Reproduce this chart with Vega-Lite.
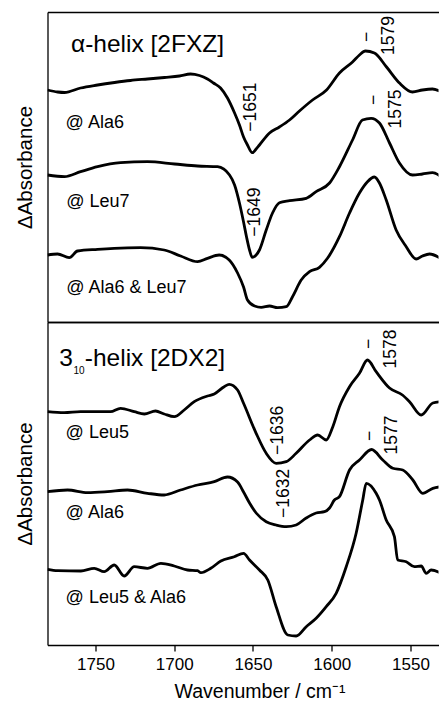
{
  "$schema": "https://vega.github.io/schema/vega-lite/v6.json",
  "padding": {"left": 15.5, "top": 12, "right": 0, "bottom": 0},
  "bounds": "flush",
  "spacing": 0,
  "config": {
    "font": "Liberation Sans",
    "view": {"stroke": null},
    "axis": {"domainColor": "black", "domainWidth": 1.3, "grid": false, "tickColor": "black", "labelColor": "black", "titleColor": "black", "titleFontWeight": "normal"},
    "axisY": {"ticks": false, "labels": false, "domain": true, "titleFontSize": 20.5, "titlePadding": 12}
  },
  "datasets": {
    "spectra": [
      {"panel":"a","series":"a1","wn":1780.5,"val":232},{"panel":"a","series":"a1","wn":1774.1,"val":230},{"panel":"a","series":"a1","wn":1769.7,"val":229.5},{"panel":"a","series":"a1","wn":1759.5,"val":234},{"panel":"a","series":"a1","wn":1748.7,"val":237},{"panel":"a","series":"a1","wn":1737.9,"val":239.5},{"panel":"a","series":"a1","wn":1727.8,"val":241.5},{"panel":"a","series":"a1","wn":1717.0,"val":243},{"panel":"a","series":"a1","wn":1706.2,"val":244.5},{"panel":"a","series":"a1","wn":1696.7,"val":246},{"panel":"a","series":"a1","wn":1689.7,"val":248},{"panel":"a","series":"a1","wn":1684.0,"val":246.5},{"panel":"a","series":"a1","wn":1678.9,"val":243},{"panel":"a","series":"a1","wn":1675.1,"val":239},{"panel":"a","series":"a1","wn":1670.6,"val":234},{"panel":"a","series":"a1","wn":1666.2,"val":224},{"panel":"a","series":"a1","wn":1661.7,"val":209},{"panel":"a","series":"a1","wn":1658.6,"val":197},{"panel":"a","series":"a1","wn":1656.0,"val":185},{"panel":"a","series":"a1","wn":1653.5,"val":177},{"panel":"a","series":"a1","wn":1650.5,"val":169.3},{"panel":"a","series":"a1","wn":1648.0,"val":173},{"panel":"a","series":"a1","wn":1645.9,"val":177},{"panel":"a","series":"a1","wn":1639.5,"val":189},{"panel":"a","series":"a1","wn":1633.2,"val":195},{"panel":"a","series":"a1","wn":1626.8,"val":202},{"panel":"a","series":"a1","wn":1620.5,"val":211},{"panel":"a","series":"a1","wn":1612.2,"val":222},{"panel":"a","series":"a1","wn":1603.3,"val":232},{"panel":"a","series":"a1","wn":1595.1,"val":249},{"panel":"a","series":"a1","wn":1586.8,"val":260},{"panel":"a","series":"a1","wn":1582.4,"val":267},{"panel":"a","series":"a1","wn":1578.6,"val":271},{"panel":"a","series":"a1","wn":1572.9,"val":269},{"panel":"a","series":"a1","wn":1565.2,"val":255},{"panel":"a","series":"a1","wn":1557.0,"val":239},{"panel":"a","series":"a1","wn":1548.7,"val":230},{"panel":"a","series":"a1","wn":1542.4,"val":232},{"panel":"a","series":"a1","wn":1536.0,"val":233},{"panel":"a","series":"a1","wn":1530.3,"val":230},
      {"panel":"a","series":"a2","wn":1780.5,"val":147},{"panel":"a","series":"a2","wn":1769.7,"val":145.3},{"panel":"a","series":"a2","wn":1759.5,"val":150.3},{"panel":"a","series":"a2","wn":1748.7,"val":155.3},{"panel":"a","series":"a2","wn":1734.1,"val":159.3},{"panel":"a","series":"a2","wn":1717.0,"val":160.3},{"panel":"a","series":"a2","wn":1699.8,"val":158},{"panel":"a","series":"a2","wn":1685.2,"val":156},{"panel":"a","series":"a2","wn":1672.5,"val":155.3},{"panel":"a","series":"a2","wn":1664.9,"val":147},{"panel":"a","series":"a2","wn":1661.7,"val":137},{"panel":"a","series":"a2","wn":1658.6,"val":119},{"panel":"a","series":"a2","wn":1656.0,"val":100},{"panel":"a","series":"a2","wn":1654.1,"val":85},{"panel":"a","series":"a2","wn":1652.2,"val":72},{"panel":"a","series":"a2","wn":1650.5,"val":64.7},{"panel":"a","series":"a2","wn":1648.0,"val":67},{"panel":"a","series":"a2","wn":1645.9,"val":72},{"panel":"a","series":"a2","wn":1641.6,"val":92},{"panel":"a","series":"a2","wn":1637.6,"val":109},{"panel":"a","series":"a2","wn":1633.2,"val":119.3},{"panel":"a","series":"a2","wn":1626.8,"val":121.3},{"panel":"a","series":"a2","wn":1616.2,"val":123.7},{"panel":"a","series":"a2","wn":1609.9,"val":130.3},{"panel":"a","series":"a2","wn":1601.4,"val":139},{"panel":"a","series":"a2","wn":1595.1,"val":155.3},{"panel":"a","series":"a2","wn":1586.8,"val":182},{"panel":"a","series":"a2","wn":1580.5,"val":202},{"panel":"a","series":"a2","wn":1575.0,"val":203.7},{"panel":"a","series":"a2","wn":1569.7,"val":199},{"panel":"a","series":"a2","wn":1563.3,"val":179},{"panel":"a","series":"a2","wn":1557.0,"val":159},{"panel":"a","series":"a2","wn":1548.7,"val":147},{"panel":"a","series":"a2","wn":1542.4,"val":148},{"panel":"a","series":"a2","wn":1536.0,"val":149.3},{"panel":"a","series":"a2","wn":1530.3,"val":145},
      {"panel":"a","series":"a3","wn":1780.5,"val":67},{"panel":"a","series":"a3","wn":1774.1,"val":68},{"panel":"a","series":"a3","wn":1766.7,"val":64.3},{"panel":"a","series":"a3","wn":1761.4,"val":71},{"panel":"a","series":"a3","wn":1748.7,"val":72.7},{"panel":"a","series":"a3","wn":1738.1,"val":73.7},{"panel":"a","series":"a3","wn":1721.4,"val":74.3},{"panel":"a","series":"a3","wn":1706.4,"val":72},{"panel":"a","series":"a3","wn":1696.0,"val":66},{"panel":"a","series":"a3","wn":1685.2,"val":60.3},{"panel":"a","series":"a3","wn":1678.9,"val":63.7},{"panel":"a","series":"a3","wn":1671.5,"val":67},{"panel":"a","series":"a3","wn":1665.1,"val":62},{"panel":"a","series":"a3","wn":1659.8,"val":49},{"panel":"a","series":"a3","wn":1656.0,"val":35},{"panel":"a","series":"a3","wn":1653.5,"val":22},{"panel":"a","series":"a3","wn":1649.0,"val":16},{"panel":"a","series":"a3","wn":1644.8,"val":14.7},{"panel":"a","series":"a3","wn":1639.5,"val":16},{"panel":"a","series":"a3","wn":1634.4,"val":14.3},{"panel":"a","series":"a3","wn":1628.9,"val":15.3},{"panel":"a","series":"a3","wn":1624.9,"val":25.3},{"panel":"a","series":"a3","wn":1619.4,"val":42},{"panel":"a","series":"a3","wn":1614.1,"val":50.3},{"panel":"a","series":"a3","wn":1607.8,"val":54.7},{"panel":"a","series":"a3","wn":1602.7,"val":63.7},{"panel":"a","series":"a3","wn":1595.1,"val":85.3},{"panel":"a","series":"a3","wn":1588.7,"val":109},{"panel":"a","series":"a3","wn":1582.4,"val":129},{"panel":"a","series":"a3","wn":1577.3,"val":140.3},{"panel":"a","series":"a3","wn":1572.9,"val":145},{"panel":"a","series":"a3","wn":1569.7,"val":139},{"panel":"a","series":"a3","wn":1565.4,"val":122},{"panel":"a","series":"a3","wn":1559.1,"val":92},{"panel":"a","series":"a3","wn":1552.7,"val":75.3},{"panel":"a","series":"a3","wn":1546.4,"val":63},{"panel":"a","series":"a3","wn":1542.4,"val":66},{"panel":"a","series":"a3","wn":1537.9,"val":68},{"panel":"a","series":"a3","wn":1530.3,"val":63},
      {"panel":"b","series":"b1","wn":1780.5,"val":233.3},{"panel":"b","series":"b1","wn":1769.9,"val":232.3},{"panel":"b","series":"b1","wn":1759.5,"val":233.3},{"panel":"b","series":"b1","wn":1748.7,"val":233.3},{"panel":"b","series":"b1","wn":1740.5,"val":233.3},{"panel":"b","series":"b1","wn":1734.1,"val":236.7},{"panel":"b","series":"b1","wn":1725.4,"val":233.3},{"panel":"b","series":"b1","wn":1719.0,"val":231},{"panel":"b","series":"b1","wn":1711.9,"val":234},{"panel":"b","series":"b1","wn":1706.4,"val":231},{"panel":"b","series":"b1","wn":1700.0,"val":228.3},{"panel":"b","series":"b1","wn":1693.7,"val":235},{"panel":"b","series":"b1","wn":1687.3,"val":243.3},{"panel":"b","series":"b1","wn":1678.9,"val":249},{"panel":"b","series":"b1","wn":1674.6,"val":251},{"panel":"b","series":"b1","wn":1668.3,"val":258.3},{"panel":"b","series":"b1","wn":1665.1,"val":260.7},{"panel":"b","series":"b1","wn":1659.8,"val":255},{"panel":"b","series":"b1","wn":1656.0,"val":241.7},{"panel":"b","series":"b1","wn":1648.0,"val":211.7},{"panel":"b","series":"b1","wn":1641.6,"val":191.7},{"panel":"b","series":"b1","wn":1635.3,"val":181.7},{"panel":"b","series":"b1","wn":1628.9,"val":183.3},{"panel":"b","series":"b1","wn":1622.6,"val":191.7},{"panel":"b","series":"b1","wn":1614.1,"val":205},{"panel":"b","series":"b1","wn":1608.9,"val":210},{"panel":"b","series":"b1","wn":1603.5,"val":205},{"panel":"b","series":"b1","wn":1599.3,"val":218.3},{"panel":"b","series":"b1","wn":1595.1,"val":238.3},{"panel":"b","series":"b1","wn":1588.7,"val":258.3},{"panel":"b","series":"b1","wn":1582.4,"val":271.7},{"panel":"b","series":"b1","wn":1577.3,"val":285},{"panel":"b","series":"b1","wn":1571.8,"val":273.3},{"panel":"b","series":"b1","wn":1563.3,"val":257},{"panel":"b","series":"b1","wn":1555.1,"val":250},{"panel":"b","series":"b1","wn":1550.6,"val":243.3},{"panel":"b","series":"b1","wn":1543.2,"val":230},{"panel":"b","series":"b1","wn":1535.8,"val":242},{"panel":"b","series":"b1","wn":1530.3,"val":243.3},
      {"panel":"b","series":"b2","wn":1780.5,"val":153.3},{"panel":"b","series":"b2","wn":1767.8,"val":155},{"panel":"b","series":"b2","wn":1755.1,"val":152.3},{"panel":"b","series":"b2","wn":1742.4,"val":153.3},{"panel":"b","series":"b2","wn":1729.7,"val":155},{"panel":"b","series":"b2","wn":1717.0,"val":151.7},{"panel":"b","series":"b2","wn":1706.4,"val":150},{"panel":"b","series":"b2","wn":1696.0,"val":155},{"panel":"b","series":"b2","wn":1685.2,"val":160},{"panel":"b","series":"b2","wn":1674.6,"val":163.3},{"panel":"b","series":"b2","wn":1666.2,"val":168},{"panel":"b","series":"b2","wn":1659.8,"val":163},{"panel":"b","series":"b2","wn":1656.0,"val":153},{"panel":"b","series":"b2","wn":1652.2,"val":142},{"panel":"b","series":"b2","wn":1648.0,"val":132},{"panel":"b","series":"b2","wn":1641.6,"val":123.3},{"panel":"b","series":"b2","wn":1635.3,"val":120},{"panel":"b","series":"b2","wn":1628.9,"val":118.3},{"panel":"b","series":"b2","wn":1622.6,"val":120},{"panel":"b","series":"b2","wn":1616.2,"val":127},{"panel":"b","series":"b2","wn":1609.9,"val":132},{"panel":"b","series":"b2","wn":1604.6,"val":133.3},{"panel":"b","series":"b2","wn":1601.4,"val":137},{"panel":"b","series":"b2","wn":1598.3,"val":145},{"panel":"b","series":"b2","wn":1595.1,"val":148.3},{"panel":"b","series":"b2","wn":1588.7,"val":175},{"panel":"b","series":"b2","wn":1582.4,"val":185},{"panel":"b","series":"b2","wn":1574.7,"val":195.5},{"panel":"b","series":"b2","wn":1567.6,"val":185},{"panel":"b","series":"b2","wn":1561.2,"val":176.7},{"panel":"b","series":"b2","wn":1554.9,"val":175},{"panel":"b","series":"b2","wn":1548.5,"val":165},{"panel":"b","series":"b2","wn":1542.2,"val":151.7},{"panel":"b","series":"b2","wn":1535.8,"val":156.7},{"panel":"b","series":"b2","wn":1530.3,"val":158.3},
      {"panel":"b","series":"b3","wn":1780.5,"val":75.7},{"panel":"b","series":"b3","wn":1774.1,"val":74.3},{"panel":"b","series":"b3","wn":1759.3,"val":74},{"panel":"b","series":"b3","wn":1750.8,"val":76.7},{"panel":"b","series":"b3","wn":1744.5,"val":73.3},{"panel":"b","series":"b3","wn":1738.1,"val":80},{"panel":"b","series":"b3","wn":1731.8,"val":69},{"panel":"b","series":"b3","wn":1725.4,"val":78.3},{"panel":"b","series":"b3","wn":1717.0,"val":76.7},{"panel":"b","series":"b3","wn":1708.5,"val":81.7},{"panel":"b","series":"b3","wn":1700.0,"val":79},{"panel":"b","series":"b3","wn":1691.6,"val":75},{"panel":"b","series":"b3","wn":1685.2,"val":74.3},{"panel":"b","series":"b3","wn":1683.1,"val":72.3},{"panel":"b","series":"b3","wn":1676.8,"val":76.7},{"panel":"b","series":"b3","wn":1670.4,"val":84},{"panel":"b","series":"b3","wn":1661.9,"val":88.3},{"panel":"b","series":"b3","wn":1656.0,"val":91.7},{"panel":"b","series":"b3","wn":1652.2,"val":85},{"panel":"b","series":"b3","wn":1645.9,"val":75},{"panel":"b","series":"b3","wn":1640.6,"val":65},{"panel":"b","series":"b3","wn":1635.3,"val":38.3},{"panel":"b","series":"b3","wn":1627.9,"val":10},{"panel":"b","series":"b3","wn":1622.6,"val":9},{"panel":"b","series":"b3","wn":1616.2,"val":18.3},{"panel":"b","series":"b3","wn":1609.9,"val":26.7},{"panel":"b","series":"b3","wn":1603.5,"val":38.3},{"panel":"b","series":"b3","wn":1597.2,"val":51.7},{"panel":"b","series":"b3","wn":1590.8,"val":78.3},{"panel":"b","series":"b3","wn":1584.5,"val":111.7},{"panel":"b","series":"b3","wn":1580.3,"val":145},{"panel":"b","series":"b3","wn":1578.1,"val":161.7},{"panel":"b","series":"b3","wn":1571.8,"val":151.7},{"panel":"b","series":"b3","wn":1569.7,"val":145},{"panel":"b","series":"b3","wn":1565.4,"val":125},{"panel":"b","series":"b3","wn":1560.2,"val":108.3},{"panel":"b","series":"b3","wn":1558.1,"val":85},{"panel":"b","series":"b3","wn":1552.7,"val":83.3},{"panel":"b","series":"b3","wn":1547.5,"val":78.3},{"panel":"b","series":"b3","wn":1543.2,"val":79},{"panel":"b","series":"b3","wn":1540.0,"val":71.7},{"panel":"b","series":"b3","wn":1536.9,"val":75},{"panel":"b","series":"b3","wn":1530.3,"val":71.7}
    ],
    "labels": [
      {"panel":"a","role":"label","wn":1769,"val":194.3,"text":"@ Ala6"},
      {"panel":"a","role":"label","wn":1768.6,"val":115.3,"text":"@ Leu7"},
      {"panel":"a","role":"label","wn":1768.6,"val":28.7,"text":"@ Ala6 & Leu7"},
      {"panel":"a","role":"title","wn":1765.6,"val":270.3,"text":"α-helix [2FXZ]"},
      {"panel":"b","role":"title","wn":1773,"val":279,"text":"3"},
      {"panel":"b","role":"sub","wn":1764.0,"val":271.5,"text":"10"},
      {"panel":"b","role":"title","wn":1756.8,"val":279,"text":"-helix [2DX2]"},
      {"panel":"b","role":"label","wn":1769,"val":206.7,"text":"@ Leu5"},
      {"panel":"b","role":"label","wn":1769,"val":126.7,"text":"@ Ala6"},
      {"panel":"b","role":"label","wn":1769,"val":42.3,"text":"@ Leu5 & Ala6"}
    ],
    "minima": [
      {"panel":"a","wn":1651,"val":190.3,"text":"−1651"},
      {"panel":"a","wn":1649,"val":85.3,"text":"−1649"},
      {"panel":"b","wn":1636,"val":190,"text":"−1636"},
      {"panel":"b","wn":1632,"val":127,"text":"−1632"}
    ],
    "maxima": [
      {"panel":"a","wn":1579,"val":285,"tval":286.5,"text":"1579"},
      {"panel":"a","wn":1575,"val":222,"tval":213,"text":"1575"},
      {"panel":"b","wn":1578,"val":301,"tval":296,"text":"1578"},
      {"panel":"b","wn":1577,"val":209,"tval":210,"text":"1577"}
    ]
  },
  "vconcat": [
    {
      "width": 391,
      "height": 310,
      "resolve": {"axis": {"x": "independent"}},
      "layer": [
        {
          "data": {"name": "spectra"},
          "transform": [{"filter": "datum.panel === 'a'"}],
          "mark": {"type": "line", "stroke": "black", "strokeWidth": 2.8, "clip": true, "interpolate": "monotone"},
          "encoding": {
            "x": {"field": "wn", "type": "quantitative", "scale": {"domain": [1532.2, 1780.5], "reverse": true, "nice": false, "zero": false}, "axis": {"orient": "top", "ticks": false, "labels": false, "domain": true, "title": null}},
            "y": {"field": "val", "type": "quantitative", "title": "ΔAbsorbance", "scale": {"domain": [0, 310], "nice": false, "zero": false}},
            "detail": {"field": "series"}
          }
        },
        {
          "data": {"name": "labels"},
          "transform": [{"filter": "datum.panel === 'a' && datum.role === 'label'"}],
          "mark": {"type": "text", "fontSize": 18, "align": "left", "baseline": "alphabetic", "color": "black"},
          "encoding": {
            "x": {"field": "wn", "type": "quantitative", "scale": {"domain": [1532.2, 1780.5], "reverse": true, "nice": false, "zero": false}, "axis": {"orient": "bottom", "ticks": false, "labels": false, "domain": true, "title": null}},
            "y": {"field": "val", "type": "quantitative", "title": "ΔAbsorbance", "scale": {"domain": [0, 310], "nice": false, "zero": false}},
            "text": {"field": "text"}
          }
        },
        {
          "data": {"name": "labels"},
          "transform": [{"filter": "datum.panel === 'a' && datum.role === 'title'"}],
          "mark": {"type": "text", "fontSize": 24.5, "align": "left", "baseline": "alphabetic", "color": "black"},
          "encoding": {
            "x": {"field": "wn", "type": "quantitative", "scale": {"domain": [1532.2, 1780.5], "reverse": true, "nice": false, "zero": false}, "axis": null},
            "y": {"field": "val", "type": "quantitative", "title": "ΔAbsorbance", "scale": {"domain": [0, 310], "nice": false, "zero": false}},
            "text": {"field": "text"}
          }
        },
        {
          "data": {"name": "minima"},
          "transform": [{"filter": "datum.panel === 'a'"}],
          "mark": {"type": "text", "fontSize": 17.5, "angle": 270, "align": "left", "baseline": "middle", "color": "black"},
          "encoding": {
            "x": {"field": "wn", "type": "quantitative", "scale": {"domain": [1532.2, 1780.5], "reverse": true, "nice": false, "zero": false}, "axis": null},
            "y": {"field": "val", "type": "quantitative", "title": "ΔAbsorbance", "scale": {"domain": [0, 310], "nice": false, "zero": false}},
            "text": {"field": "text"}
          }
        },
        {
          "data": {"name": "maxima"},
          "transform": [{"filter": "datum.panel === 'a'"}],
          "mark": {"type": "text", "fontSize": 17.5, "angle": 270, "align": "center", "baseline": "middle", "dy": 2.5, "color": "black", "text": "−"},
          "encoding": {
            "x": {"field": "wn", "type": "quantitative", "scale": {"domain": [1532.2, 1780.5], "reverse": true, "nice": false, "zero": false}, "axis": null},
            "y": {"field": "val", "type": "quantitative", "title": "ΔAbsorbance", "scale": {"domain": [0, 310], "nice": false, "zero": false}}
          }
        },
        {
          "data": {"name": "maxima"},
          "transform": [{"filter": "datum.panel === 'a'"}],
          "mark": {"type": "text", "fontSize": 17.5, "angle": 270, "align": "center", "baseline": "middle", "dy": 24.5, "color": "black"},
          "encoding": {
            "x": {"field": "wn", "type": "quantitative", "scale": {"domain": [1532.2, 1780.5], "reverse": true, "nice": false, "zero": false}, "axis": null},
            "y": {"field": "tval", "type": "quantitative", "title": "ΔAbsorbance", "scale": {"domain": [0, 310], "nice": false, "zero": false}},
            "text": {"field": "text"}
          }
        }
      ]
    },
    {
      "width": 391,
      "height": 323,
      "resolve": {"axis": {"x": "independent"}},
      "layer": [
        {
          "data": {"name": "spectra"},
          "transform": [{"filter": "datum.panel === 'b'"}],
          "mark": {"type": "line", "stroke": "black", "strokeWidth": 2.8, "clip": true, "interpolate": "monotone"},
          "encoding": {
            "x": {"field": "wn", "type": "quantitative", "scale": {"domain": [1532.2, 1780.5], "reverse": true, "nice": false, "zero": false}, "axis": {"orient": "bottom", "values": [1750, 1700, 1650, 1600, 1550], "format": "d", "ticks": true, "tickSize": 6, "tickWidth": 1.3, "labels": true, "labelFontSize": 17, "labelPadding": 5, "domain": true, "title": "Wavenumber / cm⁻¹", "titleFontSize": 19.5, "titlePadding": 10, "titleX": 212}},
            "y": {"field": "val", "type": "quantitative", "title": "ΔAbsorbance", "scale": {"domain": [0, 323], "nice": false, "zero": false}},
            "detail": {"field": "series"}
          }
        },
        {
          "data": {"name": "labels"},
          "transform": [{"filter": "datum.panel === 'b' && datum.role === 'label'"}],
          "mark": {"type": "text", "fontSize": 18, "align": "left", "baseline": "alphabetic", "color": "black"},
          "encoding": {
            "x": {"field": "wn", "type": "quantitative", "scale": {"domain": [1532.2, 1780.5], "reverse": true, "nice": false, "zero": false}, "axis": {"orient": "top", "ticks": false, "labels": false, "domain": true, "title": null}},
            "y": {"field": "val", "type": "quantitative", "title": "ΔAbsorbance", "scale": {"domain": [0, 323], "nice": false, "zero": false}},
            "text": {"field": "text"}
          }
        },
        {
          "data": {"name": "labels"},
          "transform": [{"filter": "datum.panel === 'b' && datum.role === 'title'"}],
          "mark": {"type": "text", "fontSize": 24.5, "align": "left", "baseline": "alphabetic", "color": "black"},
          "encoding": {
            "x": {"field": "wn", "type": "quantitative", "scale": {"domain": [1532.2, 1780.5], "reverse": true, "nice": false, "zero": false}, "axis": null},
            "y": {"field": "val", "type": "quantitative", "title": "ΔAbsorbance", "scale": {"domain": [0, 323], "nice": false, "zero": false}},
            "text": {"field": "text"}
          }
        },
        {
          "data": {"name": "labels"},
          "transform": [{"filter": "datum.panel === 'b' && datum.role === 'sub'"}],
          "mark": {"type": "text", "fontSize": 10, "align": "left", "baseline": "alphabetic", "color": "black"},
          "encoding": {
            "x": {"field": "wn", "type": "quantitative", "scale": {"domain": [1532.2, 1780.5], "reverse": true, "nice": false, "zero": false}, "axis": null},
            "y": {"field": "val", "type": "quantitative", "title": "ΔAbsorbance", "scale": {"domain": [0, 323], "nice": false, "zero": false}},
            "text": {"field": "text"}
          }
        },
        {
          "data": {"name": "minima"},
          "transform": [{"filter": "datum.panel === 'b'"}],
          "mark": {"type": "text", "fontSize": 17.5, "angle": 270, "align": "left", "baseline": "middle", "dy": 3, "color": "black"},
          "encoding": {
            "x": {"field": "wn", "type": "quantitative", "scale": {"domain": [1532.2, 1780.5], "reverse": true, "nice": false, "zero": false}, "axis": null},
            "y": {"field": "val", "type": "quantitative", "title": "ΔAbsorbance", "scale": {"domain": [0, 323], "nice": false, "zero": false}},
            "text": {"field": "text"}
          }
        },
        {
          "data": {"name": "maxima"},
          "transform": [{"filter": "datum.panel === 'b'"}],
          "mark": {"type": "text", "fontSize": 17.5, "angle": 270, "align": "center", "baseline": "middle", "dy": 2.5, "color": "black", "text": "−"},
          "encoding": {
            "x": {"field": "wn", "type": "quantitative", "scale": {"domain": [1532.2, 1780.5], "reverse": true, "nice": false, "zero": false}, "axis": null},
            "y": {"field": "val", "type": "quantitative", "title": "ΔAbsorbance", "scale": {"domain": [0, 323], "nice": false, "zero": false}}
          }
        },
        {
          "data": {"name": "maxima"},
          "transform": [{"filter": "datum.panel === 'b'"}],
          "mark": {"type": "text", "fontSize": 17.5, "angle": 270, "align": "center", "baseline": "middle", "dy": 24.5, "color": "black"},
          "encoding": {
            "x": {"field": "wn", "type": "quantitative", "scale": {"domain": [1532.2, 1780.5], "reverse": true, "nice": false, "zero": false}, "axis": null},
            "y": {"field": "tval", "type": "quantitative", "title": "ΔAbsorbance", "scale": {"domain": [0, 323], "nice": false, "zero": false}},
            "text": {"field": "text"}
          }
        }
      ]
    }
  ]
}
